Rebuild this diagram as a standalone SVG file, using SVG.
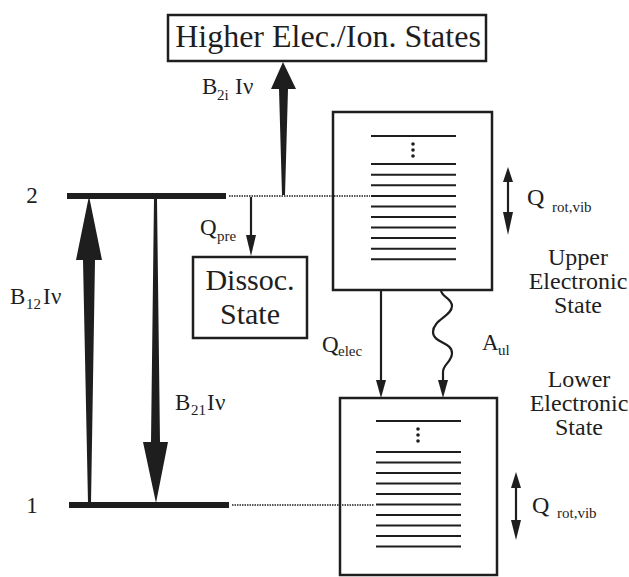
<svg xmlns="http://www.w3.org/2000/svg" width="629" height="577" viewBox="0 0 629 577">
<style>
text{font-family:"Liberation Serif","Times New Roman","DejaVu Serif",serif;fill:#1e1e1e}
.big{font-size:32px}
.dis{font-size:30px}
.lbl{font-size:23px}
.st{font-size:24px}
.q{font-size:24px}
.sub{font-size:15px}
.box{fill:none;stroke:#1e1e1e;stroke-width:2.5}
.lev{stroke:#1e1e1e;stroke-width:2}
.dot{stroke:#1e1e1e;stroke-width:1.5;stroke-dasharray:1.5 1;fill:none}
.fill{fill:#1e1e1e;stroke:none}
.ln{stroke:#1e1e1e;stroke-width:2.2;fill:none}
</style>
<rect width="629" height="577" fill="#fff"/>

<g id="higher">
<rect class="box" x="168" y="15" width="318" height="46"/>
<text class="big" x="328" y="47" text-anchor="middle">Higher Elec./Ion. States</text>
</g>

<g id="level2">
<rect class="fill" x="67" y="193" width="159" height="6"/>
<text class="lbl" x="32" y="203" text-anchor="middle">2</text>
</g>

<g id="level1">
<rect class="fill" x="69" y="502" width="160" height="6"/>
<text class="lbl" x="32" y="513" text-anchor="middle">1</text>
</g>

<g id="dissoc">
<rect class="box" x="193" y="257" width="114" height="81"/>
<text class="dis" x="250" y="290" text-anchor="middle">Dissoc.</text>
<text class="dis" x="250" y="324" text-anchor="middle">State</text>
</g>

<g id="upper">
<rect class="box" x="333" y="112" width="159" height="178"/>
<g class="lev">
<line x1="371" y1="136" x2="456" y2="136"/>
<line x1="371" y1="164" x2="456" y2="164"/>
<line x1="371" y1="174.7" x2="456" y2="174.7"/>
<line x1="371" y1="185.3" x2="456" y2="185.3"/>
<line x1="371" y1="196" x2="456" y2="196"/>
<line x1="371" y1="206.5" x2="456" y2="206.5"/>
<line x1="371" y1="217" x2="456" y2="217"/>
<line x1="371" y1="227.5" x2="456" y2="227.5"/>
<line x1="371" y1="238" x2="456" y2="238"/>
<line x1="371" y1="248.7" x2="456" y2="248.7"/>
<line x1="371" y1="259.3" x2="456" y2="259.3"/>
</g>
<circle class="fill" cx="413" cy="144" r="1.8"/>
<circle class="fill" cx="413" cy="150" r="1.8"/>
<circle class="fill" cx="413" cy="156" r="1.8"/>
<text class="st" x="578" y="265" text-anchor="middle">Upper</text>
<text class="st" x="578" y="289" text-anchor="middle">Electronic</text>
<text class="st" x="578" y="313" text-anchor="middle">State</text>
<line class="ln" x1="508" y1="180" x2="508" y2="214"/>
<polygon class="fill" points="508,167 513,182 503,182"/>
<polygon class="fill" points="508,235 513,212 503,212"/>
<text class="q" x="527" y="205">Q</text>
<text class="sub" x="552" y="212">rot,vib</text>
</g>

<g id="lower">
<rect class="box" x="340" y="398" width="157" height="177"/>
<g class="lev">
<line x1="376" y1="421" x2="461" y2="421"/>
<line x1="376" y1="452" x2="461" y2="452"/>
<line x1="376" y1="462.5" x2="461" y2="462.5"/>
<line x1="376" y1="473" x2="461" y2="473"/>
<line x1="376" y1="483.5" x2="461" y2="483.5"/>
<line x1="376" y1="494" x2="461" y2="494"/>
<line x1="376" y1="504.5" x2="461" y2="504.5"/>
<line x1="376" y1="515" x2="461" y2="515"/>
<line x1="376" y1="525.5" x2="461" y2="525.5"/>
<line x1="376" y1="536" x2="461" y2="536"/>
<line x1="376" y1="546.5" x2="461" y2="546.5"/>
</g>
<circle class="fill" cx="418" cy="429" r="1.8"/>
<circle class="fill" cx="418" cy="435" r="1.8"/>
<circle class="fill" cx="418" cy="441" r="1.8"/>
<text class="st" x="579" y="387" text-anchor="middle">Lower</text>
<text class="st" x="579" y="411" text-anchor="middle">Electronic</text>
<text class="st" x="579" y="435" text-anchor="middle">State</text>
<line class="ln" x1="516" y1="486" x2="516" y2="522"/>
<polygon class="fill" points="516,472 521,488 511,488"/>
<polygon class="fill" points="516,540 521,520 511,520"/>
<text class="q" x="532" y="513">Q</text>
<text class="sub" x="557" y="518">rot,vib</text>
</g>

<g id="connectors">
<line class="dot" x1="229" y1="196" x2="370" y2="196"/>
<line class="dot" x1="232" y1="505" x2="374" y2="505"/>
<polygon class="fill" points="283,62 296,89 288,89 285,195 282,195 279,89 271,89"/>
<polygon class="fill" points="89,196 102,260 95,260 91,503 88,503 83,260 76,260"/>
<polygon class="fill" points="154,199 157,199 160,442 168,442 156,503 143,442 151,442"/>
<line class="ln" x1="251" y1="197" x2="251" y2="237"/>
<polygon class="fill" points="246,235 256,235 251,256"/>
<line class="ln" x1="381" y1="290" x2="381" y2="381"/>
<polygon class="fill" points="376,380 386,380 381,398"/>
<path class="ln" d="M441,290 C441,297 452,298 452,306 C452,316 433,320 433,332 C433,343 452,342 452,353 C452,362 443,364 443,372 L443,381"/>
<polygon class="fill" points="438,380 448,380 443,398"/>
</g>

<g id="labels">
<text class="lbl" x="202" y="94">B</text>
<text class="sub" x="217" y="100">2i</text>
<text class="lbl" x="235" y="94">I</text>
<text class="lbl" x="243" y="94">ν</text>
<text class="lbl" x="10" y="304">B</text>
<text class="sub" x="26" y="309">12</text>
<text class="lbl" x="43" y="304">I</text>
<text class="lbl" x="51" y="304">ν</text>
<text class="lbl" x="175" y="410">B</text>
<text class="sub" x="191" y="415">21</text>
<text class="lbl" x="207" y="410">I</text>
<text class="lbl" x="215" y="410">ν</text>
<text class="lbl" x="200" y="235">Q</text>
<text class="sub" x="217" y="241">pre</text>
<text class="lbl" x="322" y="352">Q</text>
<text class="sub" x="338" y="356">elec</text>
<text class="lbl" x="482" y="350">A</text>
<text class="sub" x="498" y="355">ul</text>
</g>
</svg>
